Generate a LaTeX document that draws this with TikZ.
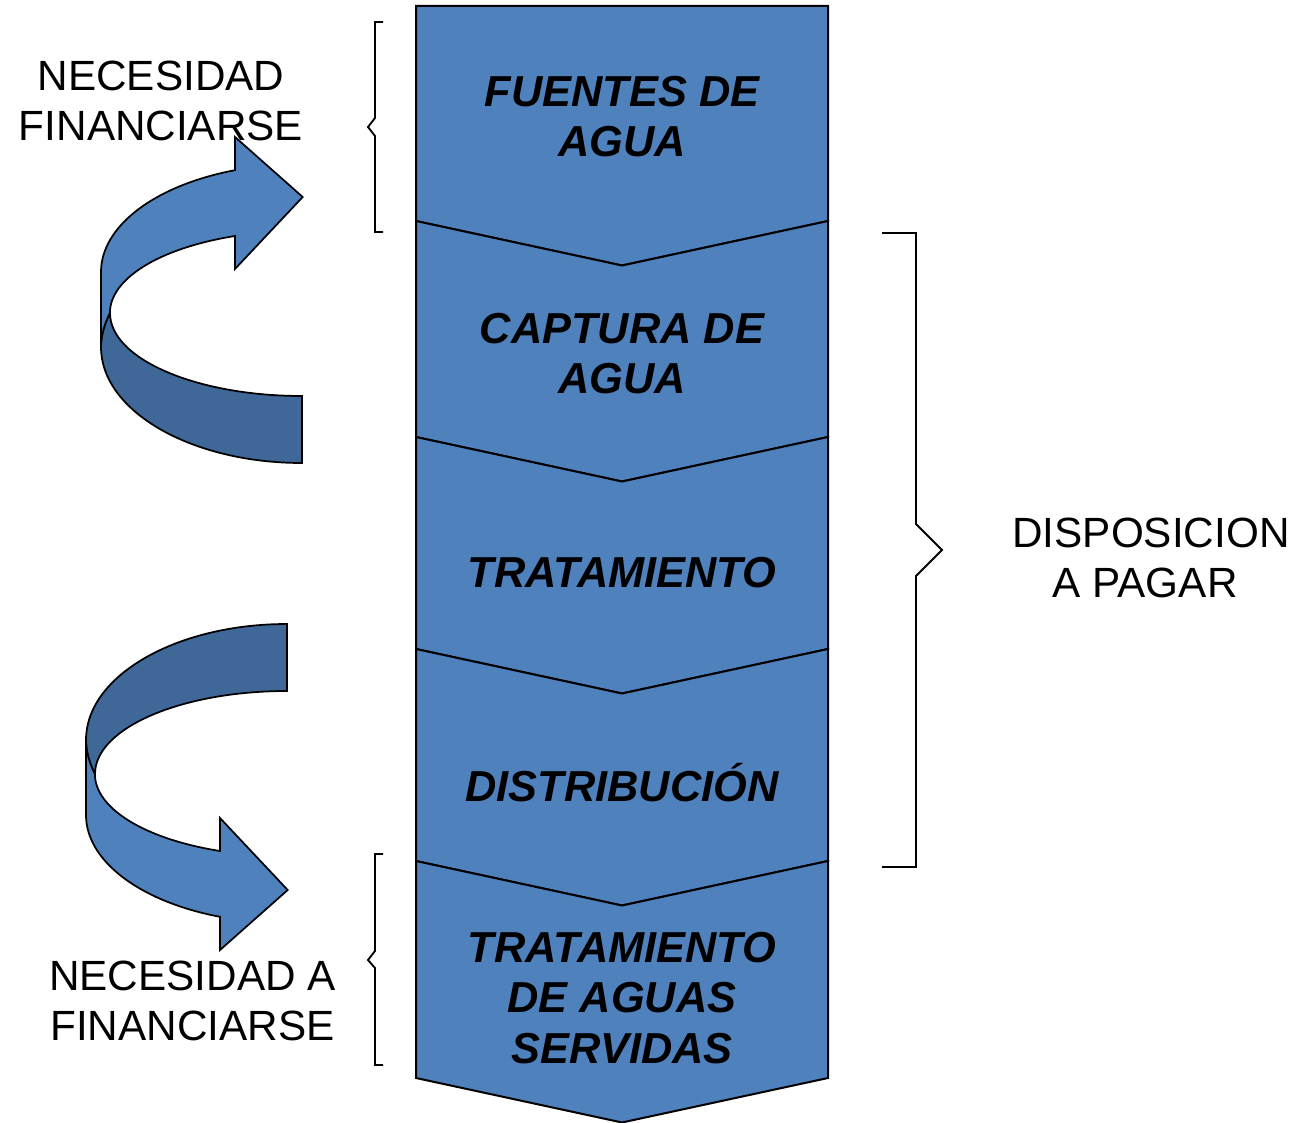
\documentclass[tikz,border=0pt]{standalone}
\usepackage{fontspec}
\setmainfont{Liberation Sans}

\definecolor{chevblue}{RGB}{79,129,189}
\definecolor{backblue}{RGB}{63,103,152}

\tikzset{every picture/.style={line width=0.75pt}}
\tikzset{
  chevshape/.style={fill=chevblue, draw=black, line width=1.5pt, line join=miter},
  bracket/.style={draw=black, line width=1.4pt},
  chevtext/.style={font=\fontsize{32.5}{38}\selectfont\bfseries\itshape, align=center, inner sep=0pt},
  sidetext/.style={font=\fontsize{31.7}{37.5}\selectfont, align=center, inner sep=0pt},
  pics/ribbonarrow/.style={code={
    %back of the band
    \draw[fill=backblue, line width=1.3pt] (110,313) .. controls (104,325) and (101,336) .. (101,347)
      arc[start angle=180, end angle=90, x radius=201, y radius=116] -- (302,396)
      arc[start angle=90, end angle=180, x radius=192, y radius=83] -- cycle;
    %front of the band with head
    \draw[fill=chevblue, line width=1.3pt] (101,347) -- (101,272)
      arc[start angle=180, end angle=250.5, x radius=201, y radius=108]
      -- (235,137) -- (302.7,197) -- (235,269) -- (235,236)
      arc[start angle=249.6, end angle=180, x radius=192, y radius=82]
      .. controls (104,325) and (101,336) .. (101,347) -- cycle;
  }}
}

\begin{document}
\begin{tikzpicture}[x=0.75pt,y=0.75pt,yscale=-1,xscale=1]
\useasboundingbox (0,0) rectangle (1304,1123);

%Shape: Chevrons
\foreach \ytop/\ybot/\dtop in {6/221/0, 221/437/44.5, 437/649/44.5, 649/861/44.5, 861/1078/44.5}
  \draw[chevshape] (416,\ytop) -- (622,\ytop+\dtop) -- (828,\ytop) -- (828,\ybot)
    -- (622,\ybot+44.5) -- (416,\ybot) -- cycle;

% Text Node
\node[chevtext] (srcTxt) at (622,116.5) {FUENTES DE\\AGUA};
% Text Node
\node[chevtext] (capTxt) at (622,353.5) {CAPTURA DE\\AGUA};
% Text Node
\node[chevtext, anchor=base] (treatTxt) at (622,587.5) {TRATAMIENTO};
% Text Node
\node[chevtext, anchor=base] (distTxt) at (622,801.5) {DISTRIBUCIÓN};
% Text Node
\node[chevtext] (sewTxt) at (622,998) {TRATAMIENTO\\DE AGUAS\\SERVIDAS};
% Text Node
\node[sidetext] (needTop) at (161,101) {NECESIDAD\\FINANCIARSE};
% Text Node
\node[sidetext] (needBot) at (192.5,1000.5) {NECESIDAD A\\FINANCIARSE};
% Text Node
\node[sidetext] (payTxt) at (1151,557.5) {DISPOSICION\\A PAGAR\hphantom{I}};

%Shape: Curved Arrows
\pic[transform shape] at (0,0) {ribbonarrow};
\begin{scope}[shift={(-15,1087)}, yscale=-1]
  \pic[transform shape] at (0,0) {ribbonarrow};
\end{scope}

%Shape: Brackets
\draw[bracket] (383,22) -- (375,22) -- (375,118) -- (368,127) -- (375,136) -- (375,232) -- (383,232);
\draw[bracket] (383,854) -- (375,854) -- (375,951) -- (368,960) -- (375,968) -- (375,1065) -- (383,1065);
\draw[bracket] (882,233) -- (916,233) -- (916,524) -- (942,550) -- (916,576) -- (916,867) -- (882,867);
\end{tikzpicture}
\end{document}
